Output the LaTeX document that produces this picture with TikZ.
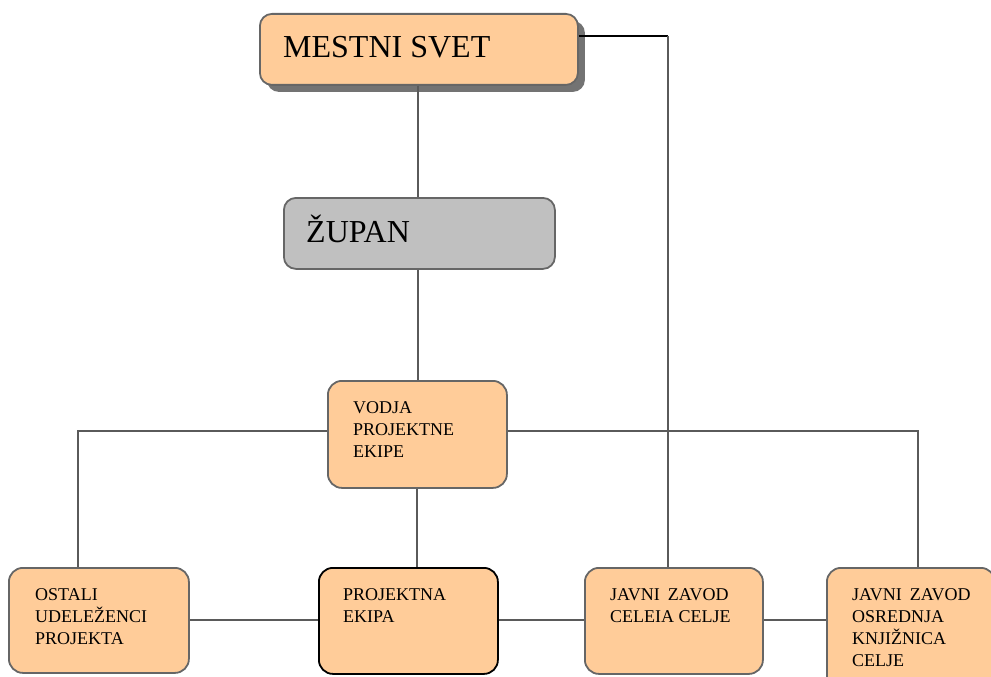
\documentclass[tikz,border=0pt]{standalone}
\usepackage{fontspec}
\setmainfont{Liberation Serif}
\usetikzlibrary{calc,shadows}
\definecolor{boxorange}{HTML}{FFCC99}
\definecolor{boxgray}{HTML}{C0C0C0}
\definecolor{edgegray}{HTML}{666666}
\definecolor{linegray}{HTML}{5A5A5A}
\begin{document}
\begin{tikzpicture}[x=1pt,y=-1pt,
  box/.style={draw=edgegray, line width=1.8pt, fill=boxorange, rounded corners=14pt,
    inner sep=0pt, anchor=north west},
  bigtxt/.style={anchor=base west, inner sep=0pt, font=\fontsize{32}{38}\selectfont},
  % multi-line labels are placed by the baseline of their last line
  smalltxt/.style={anchor=base west, inner sep=0pt, align=left,
    font=\fontsize{18}{22}\selectfont},
  link/.style={draw=linegray, line width=2pt}
]
\useasboundingbox (0,0) rectangle (991,677);

% boxes
\node[box, rounded corners=12pt, minimum width=318pt, minimum height=71pt,
  drop shadow={shadow xshift=7pt, shadow yshift=-7pt, fill=gray!90!black, opacity=1}]
  (mestni) at (259,13) {};
\node[box, fill=boxgray, rounded corners=12pt, minimum width=271pt, minimum height=71pt]
  (zupan) at (283,197) {};
\node[box, minimum width=179pt, minimum height=107pt] (vodja) at (327,380) {};
\node[box, minimum width=180pt, minimum height=105pt] (ostali) at (8,567) {};
\node[box, draw=black, minimum width=179pt, minimum height=106pt] (ekipa) at (318,567) {};
\node[box, minimum width=178pt, minimum height=106pt] (celeia) at (584,567) {};
\node[box, minimum width=168pt, minimum height=122pt] (knjiz) at (826,567) {};

% texts
\node[bigtxt] (tmestni) at (283,58) {MESTNI SVET};
\node[bigtxt] (tzupan) at (306,242) {ŽUPAN};
\node[smalltxt] (tvodja) at (353,457) {VODJA\\PROJEKTNE\\EKIPE};
\node[smalltxt] (tostali) at (35,644) {OSTALI\\UDELEŽENCI\\PROJEKTA};
\node[smalltxt] (tekipa) at (343,622) {PROJEKTNA\\EKIPA};
\node[smalltxt] (tceleia) at (610,622) {JAVNI\hspace{0.45em}ZAVOD\\CELEIA CELJE};
\node[smalltxt] (tknjiz) at (852,666) {JAVNI\hspace{0.45em}ZAVOD\\OSREDNJA\\KNJIŽNICA\\CELJE};

% connectors
\coordinate (mcorner) at (668,36);
\draw[black, line width=1.6pt] (mestni.east |- mcorner) -- (mcorner);
\draw[link] (mcorner) -- (mcorner |- celeia.north);
\draw[link] (mestni.south -| 418,0) -- (zupan.north -| 418,0);
\draw[link] (zupan.south -| 418,0) -- (vodja.north -| 418,0);
\draw[link] (vodja.south -| 417,0) -- (ekipa.north -| 417,0);
\draw[link] (vodja.west |- 0,431) -| (ostali.north -| 78,0);
\draw[link] (vodja.east |- 0,431) -| (knjiz.north -| 918,0);
\draw[link] (ostali.east |- 0,620) -- (ekipa.west |- 0,620);
\draw[link] (ekipa.east |- 0,620) -- (celeia.west |- 0,620);
\draw[link] (celeia.east |- 0,620) -- (knjiz.west |- 0,620);
\end{tikzpicture}
\end{document}
